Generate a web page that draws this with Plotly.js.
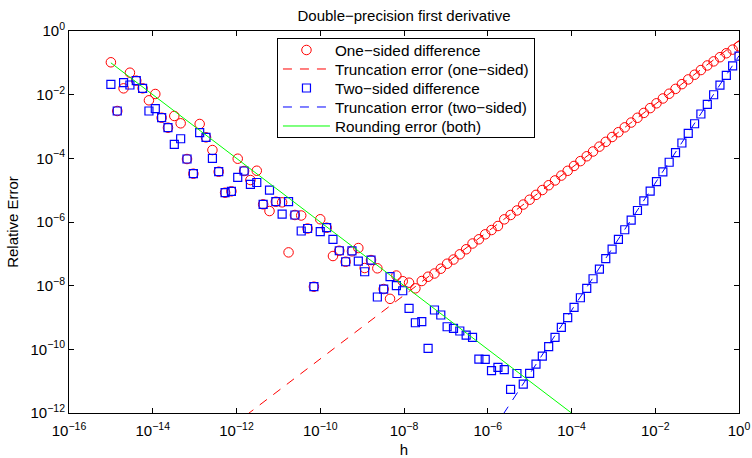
<!DOCTYPE html>
<html>
<head>
<meta charset="utf-8">
<script src="https://cdn.plot.ly/plotly-3.0.1.min.js"></script>
<style>html,body{margin:0;padding:0;background:#fff;}#chart{width:752px;height:458px;}</style>
</head>
<body>
<div id="chart"></div>
<script>
// step sizes h
const h = [
  1.00e-15, 1.42e-15, 2.01e-15, 2.85e-15, 4.04e-15, 5.72e-15, 8.11e-15, 1.15e-14, 1.63e-14, 2.31e-14,
  3.27e-14, 4.64e-14, 6.58e-14, 9.33e-14, 1.32e-13, 1.87e-13, 2.66e-13, 3.76e-13, 5.34e-13, 7.56e-13,
  1.07e-12, 1.52e-12, 2.15e-12, 3.05e-12, 4.33e-12, 6.14e-12, 8.70e-12, 1.23e-11, 1.75e-11, 2.48e-11,
  3.51e-11, 4.98e-11, 7.05e-11, 1.00e-10, 1.42e-10, 2.01e-10, 2.85e-10, 4.04e-10, 5.72e-10, 8.11e-10,
  1.15e-9, 1.63e-9, 2.31e-9, 3.27e-9, 4.64e-9, 6.58e-9, 9.33e-9, 1.32e-8, 1.87e-8, 2.66e-8,
  3.76e-8, 5.34e-8, 7.56e-8, 1.07e-7, 1.52e-7, 2.15e-7, 3.05e-7, 4.33e-7, 6.14e-7, 8.70e-7,
  1.23e-6, 1.75e-6, 2.48e-6, 3.51e-6, 4.98e-6, 7.05e-6, 1.00e-5, 1.42e-5, 2.01e-5, 2.85e-5,
  4.04e-5, 5.72e-5, 8.11e-5, 1.15e-4, 1.63e-4, 2.31e-4, 3.27e-4, 4.64e-4, 6.58e-4, 9.33e-4,
  1.32e-3, 1.87e-3, 2.66e-3, 3.76e-3, 5.34e-3, 7.56e-3, 1.07e-2, 1.52e-2, 2.15e-2, 3.05e-2,
  4.33e-2, 6.14e-2, 8.70e-2, 0.123, 0.175, 0.248, 0.351, 0.498, 0.705, 1.00
];
// one-sided difference relative error
const oneSided = [
  1.04e-1, 3.07e-3, 1.58e-2, 4.90e-2, 2.75e-2, 1.58e-2, 6.65e-3, 1.05e-2, 1.89e-3, 9.16e-4,
  2.14e-3, 1.26e-3, 9.52e-5, 3.29e-5, 1.20e-3, 4.57e-4, 1.82e-4, 3.80e-5, 8.32e-6, 9.20e-6,
  9.73e-5, 4.00e-5, 2.08e-5, 4.08e-5, 3.59e-6, 2.21e-6, 4.34e-6, 4.15e-6, 1.11e-7, 1.66e-6,
  1.60e-6, 6.24e-7, 9.27e-9, 1.22e-6, 6.61e-7, 8.53e-8, 1.25e-7, 5.65e-8, 1.20e-7, 1.52e-7,
  3.58e-8, 6.38e-8, 3.51e-8, 7.84e-9, 3.86e-9, 2.08e-8, 1.38e-8, 1.24e-8, 8.24e-9, 1.40e-8,
  1.91e-8, 2.41e-8, 3.41e-8, 4.89e-8, 6.62e-8, 9.65e-8, 1.39e-7, 2.11e-7, 2.86e-7, 4.10e-7,
  5.60e-7, 7.48e-7, 1.21e-6, 1.66e-6, 2.30e-6, 3.53e-6, 5.01e-6, 7.11e-6, 1.01e-5, 1.43e-5,
  2.02e-5, 2.87e-5, 4.06e-5, 5.77e-5, 8.17e-5, 1.16e-4, 1.64e-4, 2.33e-4, 3.30e-4, 4.68e-4,
  6.62e-4, 9.40e-4, 1.33e-3, 1.88e-3, 2.67e-3, 3.78e-3, 5.35e-3, 7.59e-3, 1.07e-2, 1.52e-2,
  2.14e-2, 3.01e-2, 4.23e-2, 5.93e-2, 8.26e-2, 0.111, 0.150, 0.200, 0.260, 0.331
];
// two-sided difference relative error
const twoSided = [
  2.12e-2, 3.07e-3, 2.38e-2, 2.01e-2, 2.75e-2, 1.58e-2, 3.07e-3, 3.62e-3, 1.89e-3, 9.16e-4,
  2.76e-4, 4.13e-4, 9.52e-5, 3.29e-5, 6.38e-4, 4.57e-4, 1.00e-4, 3.80e-5, 8.32e-6, 9.20e-6,
  2.53e-5, 4.00e-5, 1.53e-5, 1.74e-5, 3.59e-6, 1.01e-5, 4.34e-6, 1.78e-6, 4.34e-6, 1.66e-6,
  5.21e-7, 6.24e-7, 9.27e-9, 4.95e-7, 6.61e-7, 2.86e-7, 1.25e-7, 5.65e-8, 1.23e-7, 5.94e-8,
  2.74e-8, 6.38e-8, 4.40e-9, 7.84e-9, 1.91e-8, 9.96e-9, 6.93e-9, 1.94e-9, 6.85e-10, 7.37e-10,
  1.07e-10, 1.72e-9, 1.20e-9, 5.13e-10, 4.57e-10, 3.76e-10, 2.81e-10, 2.38e-10, 4.96e-11, 4.85e-11,
  2.13e-11, 2.72e-11, 2.29e-11, 5.53e-12, 1.74e-11, 8.13e-12, 1.76e-11, 3.45e-11, 6.16e-11, 1.21e-10,
  2.38e-10, 4.91e-10, 9.84e-10, 2.09e-9, 4.18e-9, 8.24e-9, 1.65e-8, 3.33e-8, 7.02e-8, 1.41e-7,
  2.83e-7, 5.70e-7, 1.14e-6, 2.30e-6, 4.61e-6, 9.29e-6, 1.86e-5, 3.75e-5, 7.52e-5, 1.51e-4,
  3.03e-4, 6.11e-4, 1.22e-3, 2.47e-3, 4.94e-3, 9.95e-3, 2.00e-2, 4.02e-2, 8.05e-2, 0.162
];
// straight reference lines (end points)
const lineH = [1e-15, 1];
const truncOne = [5.0e-16, 0.5];
const truncTwo = [1.67e-31, 0.167];
const rounding = [1e-1, 1e-16];

// axis ticks
const xTickExp = [-16, -14, -12, -10, -8, -6, -4, -2, 0];
const yTickExp = [-12, -10, -8, -6, -4, -2, 0];
const xTickVals = xTickExp.map(e => Math.pow(10, e));
const yTickVals = yTickExp.map(e => Math.pow(10, e));
const fmt = e => '10<sup>' + (e < 0 ? '\u2212' + (-e) : e) + '</sup>';
const xTickText = xTickExp.map(fmt);
const yTickText = yTickExp.map(fmt);

const FONT = 'Liberation Sans, Arial, Helvetica, sans-serif';

const traces = [
  {x: h, y: oneSided, type: 'scatter', mode: 'markers', name: 'One\u2212sided difference',
   marker: {symbol: 'circle-open', size: 9.5, color: '#ff0000', line: {width: 1, color: '#ff0000'}}},
  {x: lineH, y: truncOne, type: 'scatter', mode: 'lines', name: 'Truncation error (one\u2212sided)',
   line: {color: '#ff0000', width: 1, dash: '9px,8px'}},
  {x: h, y: twoSided, type: 'scatter', mode: 'markers', name: 'Two\u2212sided difference',
   marker: {symbol: 'square-open', size: 8, color: '#0000ff', line: {width: 1.2, color: '#0000ff'}}},
  {x: lineH, y: truncTwo, type: 'scatter', mode: 'lines', name: 'Truncation error (two\u2212sided)',
   line: {color: '#0000ff', width: 1, dash: '9px,8px'}},
  {x: lineH, y: rounding, type: 'scatter', mode: 'lines', name: 'Rounding error (both)',
   line: {color: '#00ff00', width: 1}}
];

const axisCommon = {
  type: 'log', showgrid: false, zeroline: false, showline: true, mirror: 'ticks',
  linecolor: '#000', linewidth: 1, ticks: 'inside', ticklen: 5, tickcolor: '#000', tickwidth: 1,
  tickmode: 'array', tickfont: {family: FONT, size: 15, color: '#000'}
};

const layout = {
  width: 752, height: 458,
  margin: {l: 69, r: 13, t: 31, b: 45, pad: 0},
  paper_bgcolor: '#fff', plot_bgcolor: '#fff',
  font: {family: FONT, size: 15, color: '#000'},
  title: {text: 'Double\u2212precision first derivative', font: {family: FONT, size: 15, color: '#000'},
          x: 0.5, xref: 'paper', y: 1 - 16 / 458, yref: 'container', yanchor: 'middle'},
  xaxis: Object.assign({}, axisCommon, {range: [-16, 0], tickvals: xTickVals, ticktext: xTickText,
          ticklabelstandoff: 4,
          title: {text: 'h', font: {family: FONT, size: 15, color: '#000'}, standoff: 8}}),
  yaxis: Object.assign({}, axisCommon, {range: [-12, 0], tickvals: yTickVals, ticktext: yTickText,
          title: {text: 'Relative Error', font: {family: FONT, size: 15, color: '#000'}, standoff: 8}}),
  showlegend: true,
  legend: {x: 0.3104, y: 0.9817, xanchor: 'left', yanchor: 'top', bgcolor: '#fff',
           bordercolor: '#000', borderwidth: 1, font: {family: FONT, size: 15.3, color: '#000'},
           itemwidth: 47, tracegroupgap: 0}
};

Plotly.newPlot('chart', traces, layout, {displayModeBar: false, staticPlot: true}).then(gd => {
  // tighten legend row spacing to match the reference (about 19 px per row)
  const rows = gd.querySelectorAll('.legend .traces');
  const rowGap = 19, firstY = 12;
  rows.forEach((g, i) => {
    const m = /translate\(([-\d.]+)[ ,]+([-\d.]+)\)/.exec(g.getAttribute('transform') || '');
    const tx = m ? parseFloat(m[1]) : 1;
    g.setAttribute('transform', 'translate(' + tx + ',' + (firstY + i * rowGap) + ')');
  });
  const bg = gd.querySelector('.legend rect.bg');
  if (bg) bg.setAttribute('height', firstY + (rows.length - 1) * rowGap + 11);
});
</script>
</body>
</html>
